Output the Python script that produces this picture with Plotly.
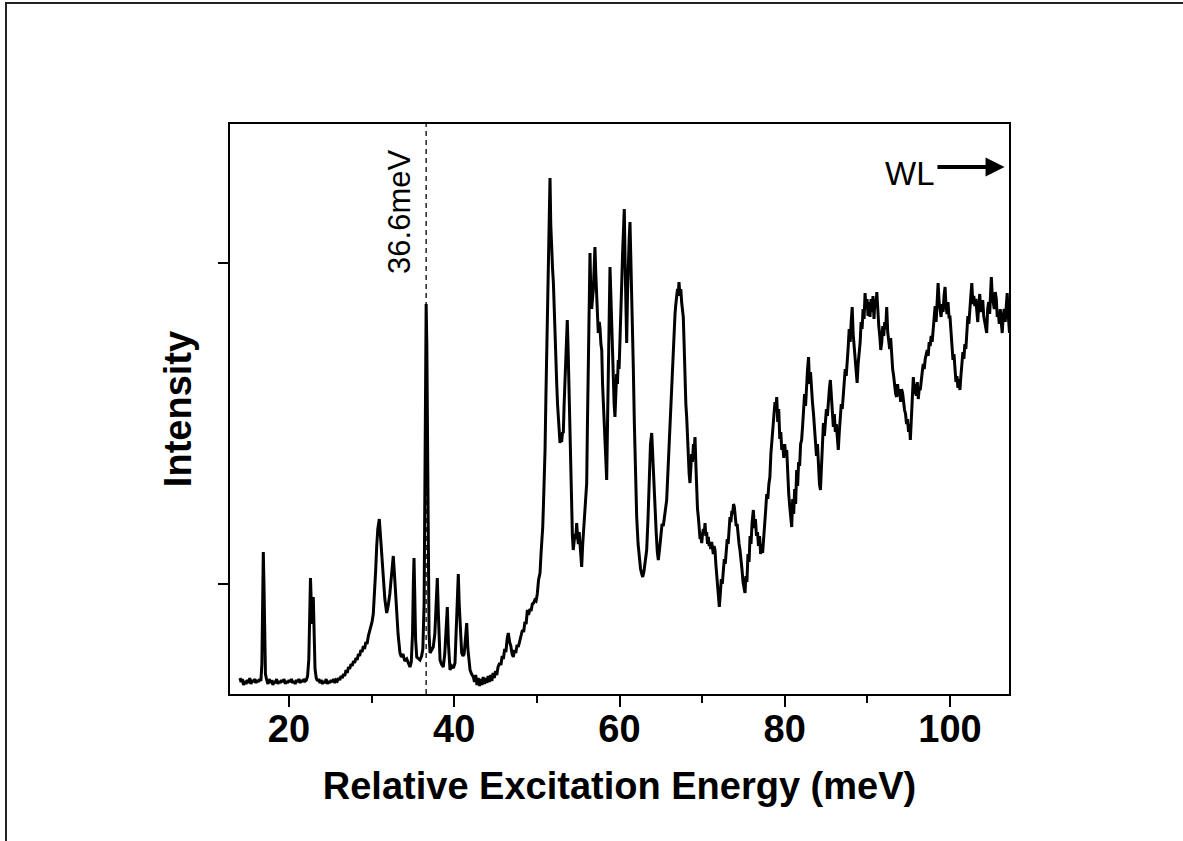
import plotly.graph_objects as go

# ---------------- data (energy in meV, intensity in a.u.) ----------------
seg_low = [(14.07,16),(14.2,12),(14.35,15),(14.5,9),(14.65,13),(14.8,10),(14.95,14),(15.1,11),(15.25,16),(15.4,10),
 (15.55,14),(15.7,12),(15.85,15),(16.0,11),(16.15,14),(16.3,12),(16.45,15),(16.6,13),(16.72,30),(16.8,80),(16.89,142),
 (16.97,110),(17.05,45),(17.15,20),(17.3,14),(17.45,10),(17.6,15),(17.75,11),(17.9,14),(18.05,9),(18.2,13),(18.35,11),
 (18.5,15),(18.65,10),(18.8,13),(18.95,11),(19.1,14),(19.25,12),(19.4,15),(19.55,10),(19.7,13),(19.85,11),(20.0,14),
 (20.15,12),(20.3,15),(20.45,11),(20.6,13),(20.75,10),(20.9,14),(21.05,12),(21.2,15),(21.35,11),(21.5,14),(21.65,12),
 (21.8,15),(21.95,13),(22.1,14),(22.25,18),(22.4,35),(22.5,80),(22.6,116),(22.7,90),(22.8,70),(22.94,97),(23.05,55),
 (23.15,25),(23.3,16),(23.45,13),(23.6,15),(23.75,11),(23.9,14),(24.05,10),(24.2,13),(24.35,11),(24.5,15),(24.65,10),
 (24.8,13),(24.95,11),(25.1,14),(25.25,12),(25.4,15),(25.55,11),(25.7,14),(25.85,13),(26.0,16),(26.15,14),(26.3,18),
 (26.45,16),(26.6,20),(26.75,18),(26.9,24),(27.05,21),(27.2,27),(27.35,25),(27.5,30),(27.65,28),(27.8,33),(27.95,31),
 (28.1,36),(28.25,34),(28.4,40),(28.55,38),(28.7,44),(28.85,42),(29.0,48),(29.15,45),(29.3,52),(29.45,50),(29.6,58),
 (29.75,62),(29.9,66),(30.05,72),(30.2,80),(30.35,100),(30.5,125),(30.61,147),(30.75,165),(30.93,175),(31.05,160),
 (31.2,135),(31.41,114),(31.6,95),(31.82,81),(32.0,88),(32.2,100),(32.43,120),(32.62,138),(32.8,115),(33.03,81),
 (33.2,60),(33.43,41),(33.6,37),(33.8,40),(34.0,33),(34.25,35),(34.45,30),(34.64,27),(34.8,32),(34.95,60),(35.05,110),
 (35.13,136),(35.22,100),(35.32,55),(35.46,37),(35.65,35),(35.85,34),(36.05,38),(36.2,45),(36.35,90),(36.45,180),
 (36.53,300),(36.6,390),(36.68,350),(36.76,230),(36.85,120),(36.95,60),(37.07,41),(37.25,44),(37.46,47),(37.65,60),
 (37.8,95),(37.95,116),(38.08,80),(38.18,45),(38.28,34),(38.45,30),(38.67,27),(38.85,40),(39.0,65),(39.16,87),
 (39.3,50),(39.49,24),(39.7,28),(39.9,26),(40.09,31),(40.25,60),(40.38,100),(40.49,120),(40.6,90),(40.75,55),
 (40.9,41),(41.05,38),(41.2,40),(41.35,55),(41.51,71),(41.65,45),(41.78,30),(41.91,24),(42.1,20),(42.31,17)]

seg_rise = [(42.45,12),(42.6,19),(42.75,9),(42.9,16),(43.05,8),(43.2,15),(43.35,9),(43.5,17),(43.65,10),(43.8,16),
 (43.95,11),(44.1,18),(44.25,12),(44.4,19),(44.55,13),(44.7,21),(44.85,16),(45.0,23),(45.15,19),(45.3,27),(45.5,31),
 (45.65,29),(45.8,38),(45.95,35),(46.1,45),(46.25,42),(46.4,55),(46.54,61),(46.7,52),(46.85,48),(47.0,40),(47.15,37),
 (47.3,44),(47.45,41),(47.6,49),(47.75,47),(47.96,54),(48.1,58),(48.25,64),(48.4,62),(48.55,72),(48.7,70),(48.85,84),
 (49.0,79),(49.15,85),(49.3,83),(49.45,90),(49.6,91),(49.75,94),(49.9,93),(50.05,100),(50.2,114),(50.38,121),
 (50.5,140),(50.6,150),(50.71,167),(50.8,190),(50.9,215),(50.99,244),(51.1,300),(51.19,344),(51.3,390),(51.38,421),
 (51.48,470),(51.59,516)]

seg_mid = [(51.68,470),(51.78,440),(51.9,425),(52.0,411),(52.1,380),(52.2,360),(52.3,335),(52.4,311),(52.5,290),
 (52.6,275),(52.7,262),(52.8,251),(52.9,256),(53.0,252),(53.1,262),(53.2,261),(53.3,290),(53.4,311),(53.5,340),
 (53.6,352),(53.68,374),(53.78,345),(53.88,310),(54.0,277),(54.1,220),(54.2,177),(54.3,158),(54.4,144),(54.5,150),
 (54.6,160),(54.7,155),(54.82,171),(54.92,158),(55.02,150),(55.12,162),(55.22,150),(55.32,138),(55.42,127),(55.55,150),
 (55.7,170),(55.85,190),(56.03,211),(56.12,270),(56.22,344),(56.33,400),(56.43,441),(56.53,400),(56.63,385),(56.73,395),
 (56.83,404),(56.93,425),(57.03,447),(57.13,420),(57.23,395),(57.33,375),(57.43,361),(57.55,372),(57.65,365),(57.75,350),
 (57.85,344),(57.95,310),(58.05,290),(58.15,265),(58.25,245),(58.35,228),(58.45,214),(58.55,270),(58.65,330),(58.75,390),
 (58.85,427),(58.95,400),(59.05,370),(59.15,340),(59.25,305),(59.35,290),(59.45,277),(59.55,300),(59.65,320),(59.75,310),
 (59.85,334),(59.95,325),(60.05,360),(60.15,390),(60.27,411),(60.37,440),(60.47,460),(60.58,485),(60.68,430),(60.78,380),
 (60.87,351),(60.97,400),(61.07,440),(61.17,455),(61.27,472),(61.37,440),(61.47,390),(61.57,350),(61.67,327),(61.8,270),
 (61.95,215),(62.08,177),(62.25,150),(62.4,135),(62.55,125),(62.7,120),(62.81,117),(62.95,122),(63.1,132),(63.29,144),
 (63.45,175),(63.6,220),(63.75,250),(63.9,261),(64.0,240),(64.1,215),(64.2,195),(64.3,177),(64.45,160),(64.58,142),
 (64.7,134),(64.85,145),(65.0,158),(65.15,170),(65.3,168),(65.45,180),(65.6,188),(65.71,194),(65.85,220),(66.0,250),
 (66.15,280),(66.3,305),(66.4,320),(66.51,334),(66.62,360),(66.72,380),(66.82,390),(66.92,397),(67.02,405),(67.1,398),
 (67.2,412),(67.3,400),(67.42,405),(67.52,392),(67.62,385),(67.72,377),(67.82,350),(67.92,310),(68.03,290),(68.13,277),
 (68.23,250),(68.33,230),(68.43,220),(68.53,211),(68.63,222),(68.73,240),(68.83,232),(68.95,250),(69.04,244),(69.14,257),
 (69.24,230),(69.34,200),(69.44,185),(69.54,177),(69.64,165),(69.75,155),(69.85,158),(69.95,151),(70.05,160),(70.15,165),
 (70.25,160),(70.35,171),(70.45,158),(70.55,162),(70.65,150),(70.75,157),(70.85,148),(70.95,151),(71.05,145),(71.15,152),
 (71.25,147),(71.35,140),(71.45,148),(71.56,144),(71.66,130),(71.76,118),(71.86,105),(71.96,95),(72.08,87),(72.2,100),
 (72.32,115),(72.44,110),(72.56,127),(72.68,135),(72.8,130),(72.92,148),(73.04,155),(73.15,150),(73.26,170),(73.37,177),
 (73.48,172),(73.6,183),(73.7,180),(73.8,190),(73.9,187),(74.0,178),(74.12,168),(74.24,170),(74.35,155),(74.47,150),
 (74.58,144),(74.7,130),(74.82,125),(74.95,112),(75.07,108),(75.19,101)]

seg_high = [(75.3,118),(75.42,112),(75.55,140),(75.68,132),(75.8,158),(75.92,150),(76.05,172),(76.2,184),(76.32,166),
 (76.45,175),(76.58,158),(76.7,162),(76.82,148),(76.95,158),(77.08,140),(77.2,150),(77.32,141),(77.45,160),(77.58,175),
 (77.7,185),(77.82,200),(77.95,195),(78.08,210),(78.2,217),(78.32,240),(78.45,258),(78.58,270),(78.7,280),(78.82,292),
 (78.93,285),(79.03,297),(79.15,272),(79.27,285),(79.4,255),(79.52,262),(79.64,244),(79.76,250),(79.88,236),(80.0,250),
 (80.12,238),(80.24,244),(80.36,215),(80.48,200),(80.6,188),(80.72,175),(80.84,167),(80.96,195),(81.08,180),(81.2,205),
 (81.32,190),(81.44,224),(81.56,208),(81.68,232),(81.8,228),(81.92,250),(82.04,254),(82.16,268),(82.28,285),(82.4,300),
 (82.52,288),(82.64,310),(82.76,325),(82.88,337),(83.0,310),(83.12,322),(83.24,300),(83.36,291),(83.48,280),(83.6,262),
 (83.72,245),(83.84,238),(83.96,250),(84.08,225),(84.2,210),(84.32,204),(84.44,230),(84.56,255),(84.68,271),(84.8,258),
 (84.92,268),(85.04,285),(85.16,278),(85.28,298),(85.4,305),(85.52,314),(85.64,295),(85.76,282),(85.88,267),(86.0,280),
 (86.12,262),(86.24,270),(86.36,250),(86.48,244),(86.6,262),(86.72,275),(86.84,290),(86.96,285),(87.08,301),(87.2,315),
 (87.32,325),(87.44,318),(87.56,340),(87.68,347),(87.8,365),(87.92,352),(88.04,372),(88.16,387),(88.28,360),(88.4,345),
 (88.52,330),(88.64,318),(88.76,311),(88.88,330),(89.0,340),(89.12,351),(89.24,372),(89.36,365),(89.48,385),(89.6,375),
 (89.72,401),(89.84,385),(89.96,395),(90.08,378),(90.2,392),(90.32,377),(90.44,395),(90.56,382),(90.68,398),(90.8,375),
 (90.92,395),(91.04,386),(91.14,402),(91.26,380),(91.38,368),(91.5,358),(91.62,344),(91.74,352),(91.86,368),(91.98,358),
 (92.1,372),(92.22,365),(92.34,387),(92.46,362),(92.58,350),(92.7,345),(92.82,356),(92.94,334),(93.06,325),(93.18,318),
 (93.3,305),(93.42,300),(93.54,297),(93.66,310),(93.78,298),(93.9,305),(94.02,292),(94.14,305),(94.26,301),(94.38,290),
 (94.5,284),(94.62,280),(94.74,270),(94.86,275),(94.98,262),(95.1,270),(95.2,254),(95.32,275),(95.44,292),(95.56,317),
 (95.68,300),(95.8,310),(95.92,298),(96.04,312),(96.16,295),(96.28,306),(96.4,304),(96.52,318),(96.64,322),(96.76,330),
 (96.88,325),(97.0,335),(97.12,340),(97.24,344),(97.36,338),(97.48,352),(97.6,348),(97.72,358),(97.84,352),(97.96,364),
 (98.08,378),(98.2,388),(98.32,372),(98.44,395),(98.56,411),(98.68,392),(98.8,380),(98.92,377),(99.04,390),(99.16,382),
 (99.28,398),(99.4,407),(99.52,388),(99.64,380),(99.76,392),(99.88,377),(100.0,377),(100.12,358),(100.24,350),(100.36,334),
 (100.48,340),(100.6,322),(100.72,312),(100.84,318),(100.96,306),(101.08,315),(101.2,304),(101.32,318),(101.44,328),
 (101.56,342),(101.68,335),(101.8,350),(101.92,345),(102.04,361),(102.16,378),(102.28,370),(102.4,390),(102.52,398),
 (102.64,411),(102.76,390),(102.88,398),(103.0,388),(103.12,395),(103.24,384),(103.36,372),(103.48,390),(103.6,400),
 (103.72,382),(103.84,388),(103.96,394),(104.08,378),(104.2,372),(104.32,365),(104.44,361),(104.56,385),(104.68,392),
 (104.8,380),(104.92,405),(105.0,417),(105.12,398),(105.24,390),(105.36,385),(105.48,402),(105.6,395),(105.72,377),
 (105.84,382),(105.96,370),(106.08,385),(106.2,372),(106.32,361),(106.44,378),(106.56,385),(106.68,372),(106.8,390),
 (106.92,401),(107.04,380),(107.2,361)]

x_tickvals = [20, 40, 60, 80, 100]
x_minor_tickvals = [30, 50, 70, 90]
y_tickvals = [110, 431]
marker_energy = 36.6
marker_label = "36.6meV"

# ---------------- figure ----------------
points = seg_low + seg_rise + seg_mid + seg_high
energy = [p[0] for p in points]
intensity = [p[1] for p in points]

FONT = "Liberation Sans, Arial, sans-serif"
W, H = 1183, 841
ML, MR, MT, MB = 230, 174, 124, 147
pw, ph = W - ML - MR, H - MT - MB

fig = go.Figure()
fig.add_trace(go.Scatter(x=energy, y=intensity, mode="lines",
                         line=dict(color="black", width=3), showlegend=False,
                         hoverinfo="x+y"))

# dashed marker line
fig.add_shape(type="line", xref="x", yref="paper", x0=marker_energy, x1=marker_energy,
              y0=0, y1=1.005, line=dict(color="black", width=1.3, dash="5px,4px"))

# outer page frame
fig.add_shape(type="rect", xref="paper", yref="paper",
              x0=(6 - ML) / pw, x1=2.0, y0=-2.0, y1=(MT + ph - 3) / ph,
              line=dict(color="#222222", width=2), fillcolor="rgba(0,0,0,0)", layer="above")

fig.add_annotation(x=33.3, y=482, xref="x", yref="y", text=marker_label, showarrow=False,
                   textangle=-90, font=dict(family=FONT, size=31, color="black"))

fig.add_annotation(x=95.1, y=521, xref="x", yref="y", text="WL", showarrow=False,
                   font=dict(family=FONT, size=33, color="black"))
fig.add_annotation(x=106.6, y=527, ax=98.3, ay=527, xref="x", yref="y", axref="x", ayref="y",
                   text="", showarrow=True, arrowhead=2, arrowsize=0.95, arrowwidth=4,
                   arrowcolor="black", standoff=0, startstandoff=0)

fig.update_xaxes(range=[12.86, 107.14], tickvals=x_tickvals, ticks="outside", ticklen=11, tickwidth=2,
                 tickcolor="black", showline=True, linewidth=2, linecolor="black", mirror=True,
                 showgrid=False, zeroline=False, ticklabelstandoff=-11,
                 tickfont=dict(family=FONT, size=38, color="black", weight="bold"),
                 minor=dict(tickvals=x_minor_tickvals, ticks="outside", ticklen=7, tickwidth=2,
                            tickcolor="black", showgrid=False),
                 title=dict(text="Relative Excitation Energy (meV)", standoff=24,
                            font=dict(family=FONT, size=38, color="black", weight="bold")))
fig.update_yaxes(range=[0, 570], tickvals=y_tickvals, showticklabels=False, ticks="outside",
                 ticklen=10, tickwidth=2, tickcolor="black", showline=True, linewidth=2,
                 linecolor="black", mirror=True, showgrid=False, zeroline=False,
                 title=dict(text="Intensity", standoff=15,
                            font=dict(family=FONT, size=38, color="black", weight="bold")))

fig.update_layout(width=W, height=H, margin=dict(l=ML, r=MR, t=MT, b=MB),
                  paper_bgcolor="white", plot_bgcolor="white")

fig.write_html("out.html", config={"displayModeBar": False},
               post_script="document.body.style.margin='0';")
